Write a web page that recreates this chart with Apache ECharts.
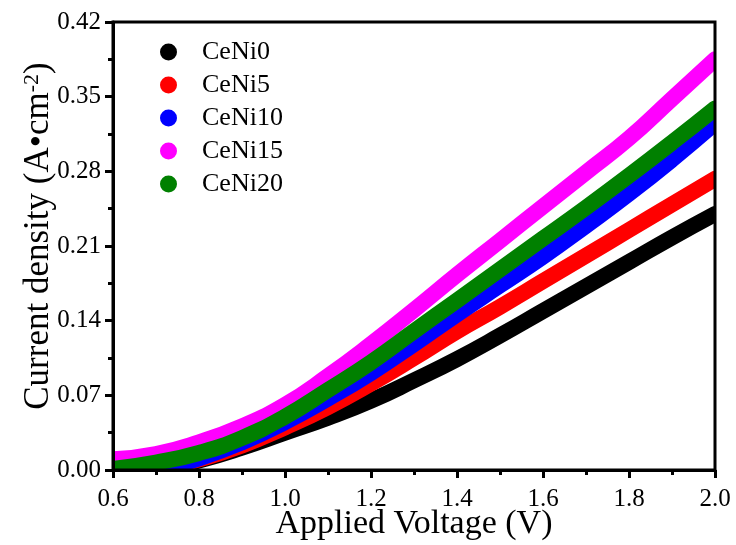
<!DOCTYPE html>
<html>
<head>
<meta charset="utf-8">
<script src="https://cdn.jsdelivr.net/npm/echarts@6/dist/echarts.min.js"></script>
<style>html,body{margin:0;padding:0;background:#fff}#c{width:736px;height:545px}</style>
</head>
<body>
<div id="c"></div>
<script>
const voltage = [0.6, 0.7, 0.8, 0.9, 1.0, 1.1, 1.2, 1.3, 1.4, 1.5, 1.6, 1.7, 1.8, 1.9, 2.0];
const ceNi0  = [-0.004, 0.000, 0.009, 0.021, 0.035, 0.049, 0.065, 0.084, 0.104, 0.126, 0.149, 0.172, 0.195, 0.218, 0.240];
const ceNi5  = [-0.004, 0.000, 0.010, 0.023, 0.040, 0.059, 0.081, 0.105, 0.130, 0.153, 0.177, 0.201, 0.225, 0.249, 0.273];
const ceNi10 = [-0.004, 0.000, 0.011, 0.026, 0.045, 0.067, 0.091, 0.118, 0.146, 0.173, 0.200, 0.229, 0.259, 0.291, 0.325];
const ceNi15 = [0.010, 0.015, 0.026, 0.041, 0.061, 0.088, 0.118, 0.150, 0.183, 0.215, 0.247, 0.279, 0.311, 0.348, 0.385];
const ceNi20 = [0.001, 0.007, 0.016, 0.030, 0.050, 0.075, 0.101, 0.130, 0.159, 0.188, 0.217, 0.246, 0.276, 0.307, 0.339];
const seriesNames = ['CeNi0', 'CeNi5', 'CeNi10', 'CeNi15', 'CeNi20'];
const seriesColors = ['#000000', '#ff0000', '#0000ff', '#ff00ff', '#008000'];
const yTicks = [0.00, 0.07, 0.14, 0.21, 0.28, 0.35, 0.42];
const xTicks = [0.6, 0.8, 1.0, 1.2, 1.4, 1.6, 1.8, 2.0];

const allData = [ceNi0, ceNi5, ceNi10, ceNi15, ceNi20];
const FONT = '"Liberation Serif", "Times New Roman", serif';

// plot-area geometry (layout only)
const G = {left: 113, right: 21, top: 22, bottom: 75, W: 736, H: 545};

const chart = echarts.init(document.getElementById('c'), null, {renderer: 'canvas'});
chart.setOption({
  animation: false,
  backgroundColor: '#fff',
  grid: {left: G.left, right: G.right, top: G.top, bottom: G.bottom, outerBoundsMode: 'none', containLabel: false,
         show: true, borderColor: '#000', borderWidth: 3, backgroundColor: 'transparent', z: 10},
  // white masks outside the plot area so the thick curves are cut exactly at the frame
  graphic: [
    {type: 'rect', z: 5, silent: true, shape: {x: 0, y: 0, width: G.left, height: G.H}, style: {fill: '#fff'}},
    {type: 'rect', z: 5, silent: true, shape: {x: 0, y: G.H - G.bottom, width: G.W, height: G.bottom}, style: {fill: '#fff'}},
    {type: 'rect', z: 5, silent: true, shape: {x: G.W - G.right, y: 0, width: G.right, height: G.H}, style: {fill: '#fff'}},
    {type: 'rect', z: 5, silent: true, shape: {x: 0, y: 0, width: G.W, height: G.top}, style: {fill: '#fff'}}
  ],
  legend: {
    orient: 'vertical', left: 155, top: 34, icon: 'circle', z: 12,
    itemWidth: 17, itemHeight: 17, itemGap: 7,
    data: seriesNames,
    textStyle: {fontFamily: FONT, fontSize: 26, color: '#000', padding: [0, 0, 0, 20]}
  },
  xAxis: {
    type: 'value', min: xTicks[0], max: xTicks[xTicks.length - 1], interval: 0.2, z: 12,
    name: 'Applied Voltage (V)', nameLocation: 'middle', nameGap: 37, nameMoveOverlap: false,
    nameTextStyle: {fontFamily: FONT, fontSize: 34, color: '#000'},
    axisLine: {lineStyle: {color: '#000', width: 3}},
    axisTick: {show: true, inside: false, length: 8, lineStyle: {color: '#000', width: 3}},
    minorTick: {show: true, splitNumber: 2, length: 5, lineStyle: {color: '#000', width: 3}},
    splitLine: {show: false},
    axisLabel: {fontFamily: FONT, fontSize: 25, color: '#000', margin: 17, formatter: v => v.toFixed(1)}
  },
  yAxis: {
    type: 'value', min: yTicks[0], max: yTicks[yTicks.length - 1], interval: 0.07, z: 12,
    name: '{a|Current density (A•cm}{s|-2}{a|)}', nameLocation: 'middle', nameGap: 56, nameMoveOverlap: false,
    nameTextStyle: {
      fontFamily: FONT, fontSize: 35, color: '#000', padding: [0, 0, 0, 20],
      rich: {
        a: {fontFamily: FONT, fontSize: 35, color: '#000'},
        s: {fontFamily: FONT, fontSize: 22, color: '#000', verticalAlign: 'top', padding: [0, 0, 14, 0]}
      }
    },
    axisLine: {lineStyle: {color: '#000', width: 3}},
    axisTick: {show: true, inside: false, length: 8, lineStyle: {color: '#000', width: 3}},
    minorTick: {show: true, splitNumber: 2, length: 5, lineStyle: {color: '#000', width: 3}},
    splitLine: {show: false},
    axisLabel: {fontFamily: FONT, fontSize: 25, color: '#000', margin: 12, formatter: v => v.toFixed(2)}
  },
  series: seriesNames.map((n, i) => ({
    name: n, type: 'line', smooth: 0.5, showSymbol: false, clip: true,
    color: seriesColors[i],
    lineStyle: {width: 16, color: seriesColors[i], cap: 'round', join: 'round'},
    data: voltage.map((v, j) => [v, allData[i][j]]),
    z: 2
  }))
});
</script>
</body>
</html>
